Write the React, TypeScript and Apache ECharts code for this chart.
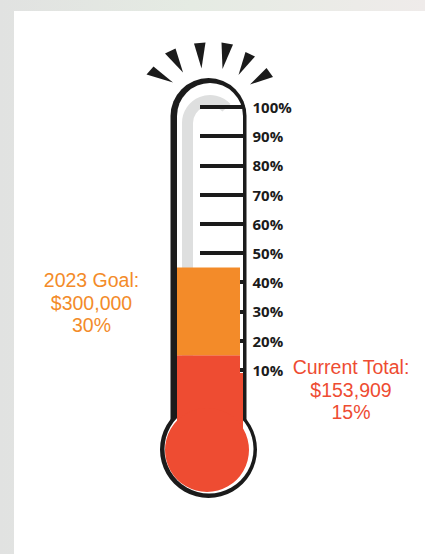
import React, { useEffect, useRef } from 'react';
import * as echarts from 'echarts';

// ---- data ----
const categories = ['Fundraising'];
const currentPct = [15];
const goalPct = [30];
const axisMin = 0;
const axisMax = 100;
const axisStep = 10;
const goalLines = ['2023 Goal:', '$300,000', '30%'];
const currentLines = ['Current Total:', '$153,909', '15%'];

const RED = '#ee4c32';
const ORANGE = '#f38b29';
const INK = '#1b1b1b';
const GRAY = '#dedfdf';

const rays: number[][][] = [
  [[146.5, 74.5], [153.5, 66.5], [173, 82.5]],
  [[165, 53.5], [175.5, 48.5], [183, 72.5]],
  [[194, 43.5], [205.5, 42.5], [201.5, 68.5]],
  [[221.5, 42.5], [233, 44.5], [222.5, 69]],
  [[245.5, 52], [255, 56.5], [238.5, 75]],
  [[266.5, 68], [273, 77], [250, 84.5]],
];

export default function App() {
  const ref = useRef<HTMLDivElement>(null);
  useEffect(() => {
    if (!ref.current) return;
    const chart = echarts.init(ref.current, undefined, { renderer: 'svg' });
    const option: any = {
      animation: false,
      backgroundColor: {
        type: 'linear', x: 0, y: 0, x2: 1, y2: 0,
        colorStops: [
          { offset: 0, color: '#e1e2e1' },
          { offset: 0.45, color: '#e5ebe3' },
          { offset: 1, color: '#efebea' },
        ],
      },
      grid: { left: 177, right: 185, top: 107, bottom: 155, containLabel: false },
      xAxis: { type: 'category', data: categories, show: false },
      yAxis: {
        type: 'value', min: axisMin, max: axisMax, interval: axisStep,
        position: 'right', offset: 4.5, z: 1,
        axisLine: { show: false },
        splitLine: { show: false },
        axisTick: { show: true, inside: true, length: 44.5, lineStyle: { color: INK, width: 4 } },
        axisLabel: {
          margin: 8,
          formatter: (v: number) => (v === 0 ? '' : v + '%'),
          color: INK, fontFamily: '"Open Sans", sans-serif', fontWeight: 'bold', fontSize: 15,
        },
      },
      series: [
        { type: 'bar', stack: 'total', data: currentPct, barWidth: '100%', itemStyle: { color: RED }, z: 2 },
        { type: 'bar', stack: 'total', data: goalPct, barWidth: '100%', itemStyle: { color: ORANGE }, z: 2 },
      ],
      graphic: [
        { type: 'rect', z: -10, shape: { x: 14, y: 11, width: 411, height: 543 }, style: { fill: '#ffffff' } },
        { type: 'rect', z: -9, shape: { x: 170.5, y: 78, width: 76, height: 360, r: [38, 38, 0, 0] }, style: { fill: INK } },
        { type: 'circle', z: -9, shape: { cx: 208.5, cy: 449.5, r: 48.5 }, style: { fill: INK } },
        { type: 'rect', z: -8, shape: { x: 177, y: 83, width: 66, height: 355, r: [33, 33, 0, 0] }, style: { fill: '#ffffff' } },
        { type: 'circle', z: -8, shape: { cx: 209, cy: 449, r: 44.5 }, style: { fill: '#ffffff' } },
        { type: 'rect', z: -7, shape: { x: 182, y: 123, width: 11, height: 280 }, style: { fill: GRAY } },
        { type: 'arc', z: -7, shape: { cx: 210, cy: 123, r: 22.5, startAngle: Math.PI, endAngle: 2 * Math.PI - 0.75, clockwise: true }, style: { stroke: GRAY, lineWidth: 11, fill: 'none' } },
        { type: 'rect', z: 0, shape: { x: 177, y: 373, width: 66, height: 74 }, style: { fill: RED } },
        { type: 'rect', z: 3, shape: { x: 177, y: 396, width: 66, height: 51 }, style: { fill: RED } },
        { type: 'circle', z: 3, shape: { cx: 207, cy: 450, r: 42 }, style: { fill: RED } },
        ...rays.map((pts) => ({ type: 'polygon', z: 3, shape: { points: pts }, style: { fill: INK } })),
        {
          type: 'text', z: 3, x: 91.5, y: 302.5,
          style: {
            text: goalLines.join('\n'), fill: ORANGE, fontSize: 19.5, lineHeight: 22.5,
            fontFamily: '"Liberation Sans", Arial, sans-serif', align: 'center', verticalAlign: 'middle',
          },
        },
        {
          type: 'text', z: 3, x: 351, y: 389.5,
          style: {
            text: currentLines.join('\n'), fill: RED, fontSize: 19.5, lineHeight: 22.5,
            fontFamily: '"Liberation Sans", Arial, sans-serif', align: 'center', verticalAlign: 'middle',
          },
        },
      ],
    };
    chart.setOption(option);
    return () => chart.dispose();
  }, []);
  return <div ref={ref} style={{ position: 'fixed', left: 0, top: 0, width: 425, height: 554 }} />;
}
